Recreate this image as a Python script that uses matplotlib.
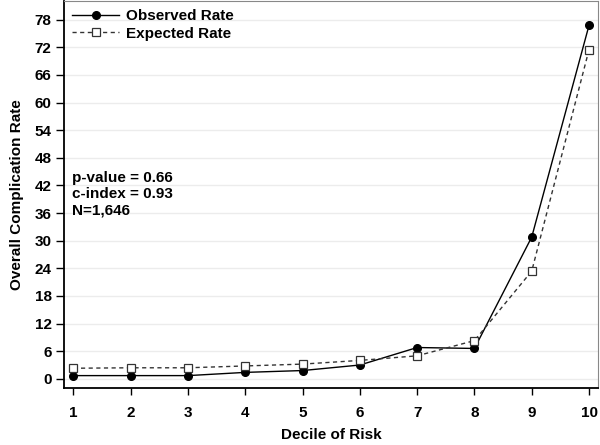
import matplotlib
matplotlib.use("Agg")
import matplotlib.pyplot as plt

deciles = [1, 2, 3, 4, 5, 6, 7, 8, 9, 10]
observed = [0.7, 0.7, 0.7, 1.4, 1.8, 3.0, 6.8, 6.6, 30.8, 76.8]
expected = [2.3, 2.4, 2.4, 2.8, 3.2, 4.0, 5.0, 8.3, 23.4, 71.5]
yticks = [0, 6, 12, 18, 24, 30, 36, 42, 48, 54, 60, 66, 72, 78]
stats_text = ["p-value = 0.66", "c-index = 0.93", "N=1,646"]

plt.rcParams['font.family'] = ['Liberation Sans', 'DejaVu Sans']
plt.rcParams['font.weight'] = 'bold'

fig = plt.figure(figsize=(6, 4.45), dpi=100)
ax = fig.add_axes([0.107, 0.128, 0.89, 0.869])

ax.plot(deciles, observed, '-', color='black', lw=1.0, marker='o', ms=5.5,
        mfc='black', mec='black', label='Observed Rate', zorder=3)
ax.plot(deciles, expected, '--', color='#333333', lw=1.0, marker='s', ms=6,
        mfc='white', mec='#333333', mew=0.9, label='Expected Rate', zorder=3,
        dashes=(3, 2.5))

ax.set_xlim(0.84, 10.16)
ax.set_ylim(-2, 82)
ax.set_xticks(deciles)
ax.set_yticks(yticks)
ax.yaxis.grid(True, color='#ececec', lw=1.0)
ax.set_axisbelow(True)

ax.tick_params(axis='y', direction='out', length=6, width=1, labelsize=11, pad=3)
ax.tick_params(axis='x', direction='out', length=5, width=1, labelsize=11, pad=8)
for lbl in ax.get_xticklabels() + ax.get_yticklabels():
    lbl.set_fontweight('bold')
ax.spines['left'].set_linewidth(1.3)
ax.spines['bottom'].set_linewidth(1.3)
ax.spines['top'].set_color('#888888')
ax.spines['right'].set_color('#888888')

ax.set_xlabel('Decile of Risk', fontsize=11, fontweight='bold', labelpad=6)
ax.set_ylabel('Overall Complication Rate', fontsize=11, fontweight='bold', labelpad=8)

leg = ax.legend(loc='upper left', frameon=False, fontsize=11, handlelength=3.1,
                borderaxespad=0.1, labelspacing=0.25, handletextpad=0.45,
                bbox_to_anchor=(0.0, 1.0))
for t in leg.get_texts():
    t.set_fontweight('bold')

for i, s in enumerate(stats_text):
    ax.text(0.015, 0.543 - i * 0.0414, s, transform=ax.transAxes, fontsize=11,
            fontweight='bold', va='center', ha='left')

fig.savefig('out.png', dpi=100)
